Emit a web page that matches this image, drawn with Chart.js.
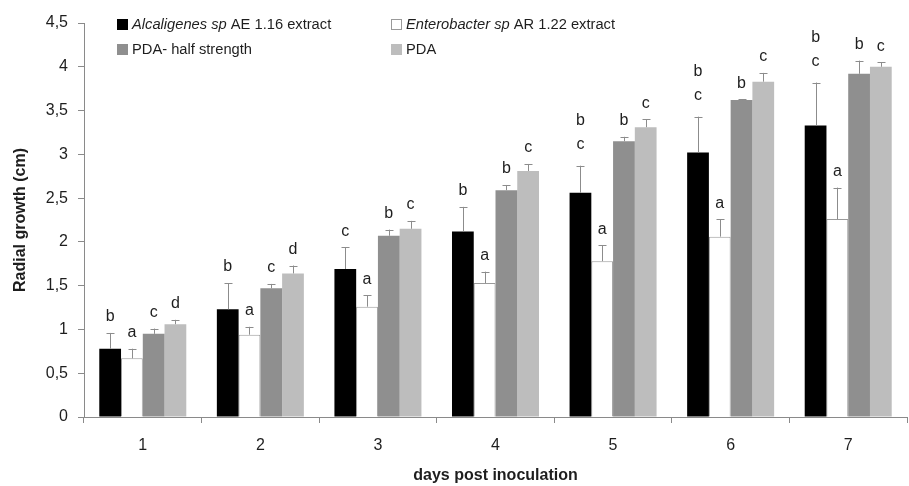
<!DOCTYPE html>
<html>
<head>
<meta charset="utf-8">
<script src="https://cdn.jsdelivr.net/npm/chart.js@4/dist/chart.umd.min.js"></script>
<style>
  html, body { margin: 0; padding: 0; background: #fff; }
  #wrap { width: 909px; height: 486px; }
</style>
</head>
<body>
<div id="wrap"><canvas id="growthChart" width="909" height="486"></canvas></div>
<script>
/* ── data ── */
const days = ['1', '2', '3', '4', '5', '6', '7'];

const alcaligenes    = [0.78, 1.23, 1.69, 2.12, 2.56, 3.02, 3.33];
const alcaligenesErr = [0.18, 0.30, 0.25, 0.28, 0.31, 0.41, 0.49];
const alcaligenesSig = [['b'], ['b'], ['c'], ['b'], ['b', 'c'], ['b', 'c'], ['b', 'c']];

const enterobacter    = [0.67, 0.94, 1.26, 1.53, 1.78, 2.06, 2.26];
const enterobacterErr = [0.11, 0.09, 0.13, 0.13, 0.18, 0.20, 0.36];
const enterobacterSig = [['a'], ['a'], ['a'], ['a'], ['a'], ['a'], ['a']];

const pdaHalf    = [0.95, 1.47, 2.07, 2.59, 3.15, 3.62, 3.92];
const pdaHalfErr = [0.06, 0.05, 0.07, 0.06, 0.05, 0.01, 0.15];
const pdaHalfSig = [['c'], ['c'], ['b'], ['b'], ['b'], ['b'], ['b']];

const pda    = [1.06, 1.64, 2.15, 2.81, 3.31, 3.83, 4.00];
const pdaErr = [0.05, 0.09, 0.09, 0.08, 0.09, 0.10, 0.05];
const pdaSig = [['d'], ['d'], ['c'], ['c'], ['c'], ['c'], ['c']];

const yTicks = [0, 0.5, 1, 1.5, 2, 2.5, 3, 3.5, 4, 4.5];

const FONT = '"Liberation Sans", Arial, sans-serif';
const TEXT = '#1e1e1e';
const AXIS = '#8a8a8a';

function barSet(label, data, err, sig, fill, border, legendParts) {
  return {
    label, data, err, sig, legendParts,
    backgroundColor: fill,
    borderColor: border,
    borderWidth: border ? 1 : 0,
    borderSkipped: 'bottom',
    categoryPercentage: 0.74,
    barPercentage: 1.0,
  };
}

/* ── error bars + significance letters ── */
const errorBars = {
  id: 'errorBars',
  afterDatasetsDraw(chart) {
    const { ctx, scales: { y } } = chart;
    ctx.save();
    chart.data.datasets.forEach((ds, i) => {
      chart.getDatasetMeta(i).data.forEach((bar, j) => {
        const top = y.getPixelForValue(ds.data[j] + ds.err[j]);
        const base = y.getPixelForValue(ds.data[j]);
        ctx.strokeStyle = '#8c8c8c';
        ctx.lineWidth = 1;
        ctx.beginPath();
        ctx.moveTo(Math.round(bar.x) + 0.5, base);
        ctx.lineTo(Math.round(bar.x) + 0.5, top);
        ctx.moveTo(Math.round(bar.x) - 3.5, Math.round(top) + 0.5);
        ctx.lineTo(Math.round(bar.x) + 4.5, Math.round(top) + 0.5);
        ctx.stroke();

        ctx.fillStyle = TEXT;
        ctx.font = '16px ' + FONT;
        ctx.textAlign = 'center';
        ctx.textBaseline = 'middle';
        const letters = ds.sig[j];
        const gap = letters.length > 1 ? 21 : 16;
        letters.slice().reverse().forEach((t, k) => {
          ctx.fillText(t, bar.x, top - gap - k * 24);
        });
      });
    });
    ctx.restore();
  }
};

/* ── legend with italic genus names ── */
const richLegend = {
  id: 'richLegend',
  afterDraw(chart) {
    const { ctx } = chart;
    const spots = [[117, 24], [391, 24], [117, 49], [391, 49]];
    ctx.save();
    chart.data.datasets.forEach((ds, i) => {
      const [x, yc] = spots[i];
      ctx.fillStyle = ds.backgroundColor;
      ctx.fillRect(x, yc - 5, 11, 11);
      if (ds.borderColor) {
        ctx.strokeStyle = ds.borderColor;
        ctx.lineWidth = 1;
        ctx.strokeRect(x + 0.5, yc - 4.5, 10, 10);
      }
      let tx = x + 15;
      ctx.fillStyle = TEXT;
      ctx.textBaseline = 'middle';
      ctx.textAlign = 'left';
      ds.legendParts.forEach(([txt, italic]) => {
        ctx.font = (italic ? 'italic ' : '') + '14.7px ' + FONT;
        ctx.fillText(txt, tx, yc + 1);
        tx += ctx.measureText(txt).width;
      });
    });
    ctx.restore();
  }
};

new Chart(document.getElementById('growthChart'), {
  type: 'bar',
  data: {
    labels: days,
    datasets: [
      barSet('Alcaligenes sp AE 1.16 extract', alcaligenes, alcaligenesErr, alcaligenesSig,
        '#000000', null, [['Alcaligenes sp', true], [' AE 1.16 extract', false]]),
      barSet('Enterobacter sp AR 1.22 extract', enterobacter, enterobacterErr, enterobacterSig,
        '#ffffff', '#9a9a9a', [['Enterobacter sp', true], [' AR 1.22 extract', false]]),
      barSet('PDA- half strength', pdaHalf, pdaHalfErr, pdaHalfSig,
        '#8f8f8f', null, [['PDA- half strength', false]]),
      barSet('PDA', pda, pdaErr, pdaSig,
        '#bdbdbd', null, [['PDA', false]]),
    ]
  },
  options: {
    responsive: false,
    animation: false,
    layout: { padding: { top: 23, right: 2, left: 0, bottom: 0 } },
    plugins: { legend: { display: false }, tooltip: { enabled: false } },
    scales: {
      x: {
        grid: { display: true, drawOnChartArea: false, drawTicks: true, tickLength: 6, color: AXIS, offset: true },
        border: { display: true, color: AXIS },
        ticks: { color: TEXT, font: { family: FONT, size: 16 }, padding: 13 },
        title: { display: true, text: 'days post inoculation', color: TEXT,
                 font: { family: FONT, size: 16, weight: 'bold' }, padding: { top: 4, bottom: 1 } },
        afterFit: axis => { axis.height = 69; },
      },
      y: {
        min: 0, max: 4.5,
        afterBuildTicks: axis => { axis.ticks = yTicks.map(v => ({ value: v })); },
        grid: { display: true, drawOnChartArea: false, drawTicks: true, tickLength: 6, color: AXIS },
        border: { display: true, color: AXIS },
        ticks: { color: TEXT, font: { family: FONT, size: 16 }, padding: 10,
                 callback: v => String(v).replace('.', ',') },
        title: { display: true, text: 'Radial growth (cm)', color: TEXT,
                 font: { family: FONT, size: 16, weight: 'bold' }, padding: { top: 11, bottom: 0 } },
        afterFit: axis => { axis.width = 84; },
      }
    }
  },
  plugins: [errorBars, richLegend]
});
</script>
</body>
</html>
